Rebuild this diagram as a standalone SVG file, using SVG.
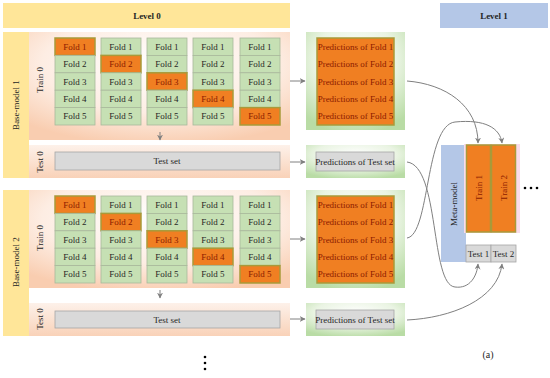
<svg xmlns="http://www.w3.org/2000/svg" width="550" height="378" viewBox="0 0 550 378">
<defs>
<radialGradient id="peach" cx="0.5" cy="0.3" r="0.75">
<stop offset="0" stop-color="#FFFFFF"/>
<stop offset="0.6" stop-color="#FDEDE3"/>
<stop offset="1" stop-color="#F9CDB0"/>
</radialGradient>
<linearGradient id="peachStrip" x1="0" y1="0" x2="0" y2="1">
<stop offset="0" stop-color="#FDF1EA"/>
<stop offset="1" stop-color="#F9D2B8"/>
</linearGradient>
<radialGradient id="green" cx="0.5" cy="0.3" r="0.75">
<stop offset="0" stop-color="#FFFFFF"/>
<stop offset="0.55" stop-color="#EAF4E3"/>
<stop offset="1" stop-color="#B9DCA5"/>
</radialGradient>
<marker id="arr" viewBox="0 0 10 10" refX="9" refY="5" markerWidth="6" markerHeight="6" orient="auto" markerUnits="userSpaceOnUse">
<path d="M0,0 L10,5 L0,10 L3,5 Z" fill="#7F7F7F"/>
</marker>
</defs>
<style>
text{font-family:"Liberation Serif","Times New Roman",serif;font-size:9px;text-anchor:middle;dominant-baseline:central;fill:#262626}
.b{font-weight:bold}
.g{fill:#C6E0B4;stroke:#A9B89C;stroke-width:0.8}
.o{fill:#F07F22;stroke:#A89A3A;stroke-width:1.5}
.col{fill:none;stroke:#A6A6A6;stroke-width:1}
.ot{fill:#8B1A00}
.gray{fill:#D9D9D9;stroke:#A6A6A6;stroke-width:0.8}
.yel{fill:#FFE699}
.blue{fill:#B4C7E7}
.con{fill:none;stroke:#808080;stroke-width:1;marker-end:url(#arr)}
</style>

<g id="level0"><rect x="3" y="3" width="287" height="25" class="yel"/><text x="147" y="16" class="b">Level 0</text></g>
<g id="level1"><rect x="440" y="3" width="108" height="25" class="blue"/><text x="494" y="16" class="b">Level 1</text></g>

<!-- Base model 1 -->
<g id="base1">
<rect x="3" y="32" width="26" height="146" class="yel"/>
<text transform="translate(16,105) rotate(-90)">Base-model 1</text>
<rect x="29" y="32" width="261" height="108" fill="url(#peach)"/>
<text transform="translate(40,80) rotate(-90)">Train 0</text>
<rect x="29" y="145" width="261" height="33" fill="url(#peachStrip)"/>
<text transform="translate(40,162) rotate(-90)">Test 0</text>
</g>

<g id="folds1">
<g id="f1c1">
<rect x="55" y="38" width="40" height="17.4" class="o"/><text x="75" y="46.7" class="ot">Fold 1</text>
<rect x="55" y="55.4" width="40" height="17.4" class="g"/><text x="75" y="64.1">Fold 2</text>
<rect x="55" y="72.8" width="40" height="17.4" class="g"/><text x="75" y="81.5">Fold 3</text>
<rect x="55" y="90.2" width="40" height="17.4" class="g"/><text x="75" y="98.9">Fold 4</text>
<rect x="55" y="107.6" width="40" height="17.4" class="g"/><text x="75" y="116.3">Fold 5</text>
</g>
<g id="f1c2">
<rect x="101" y="38" width="40" height="17.4" class="g"/><text x="121" y="46.7">Fold 1</text>
<rect x="101" y="55.4" width="40" height="17.4" class="o"/><text x="121" y="64.1" class="ot">Fold 2</text>
<rect x="101" y="72.8" width="40" height="17.4" class="g"/><text x="121" y="81.5">Fold 3</text>
<rect x="101" y="90.2" width="40" height="17.4" class="g"/><text x="121" y="98.9">Fold 4</text>
<rect x="101" y="107.6" width="40" height="17.4" class="g"/><text x="121" y="116.3">Fold 5</text>
</g>
<g id="f1c3">
<rect x="147" y="38" width="40" height="17.4" class="g"/><text x="167" y="46.7">Fold 1</text>
<rect x="147" y="55.4" width="40" height="17.4" class="g"/><text x="167" y="64.1">Fold 2</text>
<rect x="147" y="72.8" width="40" height="17.4" class="o"/><text x="167" y="81.5" class="ot">Fold 3</text>
<rect x="147" y="90.2" width="40" height="17.4" class="g"/><text x="167" y="98.9">Fold 4</text>
<rect x="147" y="107.6" width="40" height="17.4" class="g"/><text x="167" y="116.3">Fold 5</text>
</g>
<g id="f1c4">
<rect x="193" y="38" width="40" height="17.4" class="g"/><text x="213" y="46.7">Fold 1</text>
<rect x="193" y="55.4" width="40" height="17.4" class="g"/><text x="213" y="64.1">Fold 2</text>
<rect x="193" y="72.8" width="40" height="17.4" class="g"/><text x="213" y="81.5">Fold 3</text>
<rect x="193" y="90.2" width="40" height="17.4" class="o"/><text x="213" y="98.9" class="ot">Fold 4</text>
<rect x="193" y="107.6" width="40" height="17.4" class="g"/><text x="213" y="116.3">Fold 5</text>
</g>
<g id="f1c5">
<rect x="240" y="38" width="40" height="17.4" class="g"/><text x="260" y="46.7">Fold 1</text>
<rect x="240" y="55.4" width="40" height="17.4" class="g"/><text x="260" y="64.1">Fold 2</text>
<rect x="240" y="72.8" width="40" height="17.4" class="g"/><text x="260" y="81.5">Fold 3</text>
<rect x="240" y="90.2" width="40" height="17.4" class="g"/><text x="260" y="98.9">Fold 4</text>
<rect x="240" y="107.6" width="40" height="17.4" class="o"/><text x="260" y="116.3" class="ot">Fold 5</text>
</g>
</g>
<g id="testset1"><rect x="55" y="152" width="225" height="18" class="gray"/><text x="167" y="161">Test set</text></g>

<g id="pred1">
<rect x="306" y="32" width="99" height="98" fill="url(#green)"/>
<rect x="317" y="38" width="77" height="87" fill="#F07F22" stroke="#A89A3A" stroke-width="1.5"/>
<text x="355.5" y="46.7" class="ot">Predictions of Fold 1</text>
<text x="355.5" y="64.1" class="ot">Predictions of Fold 2</text>
<text x="355.5" y="81.5" class="ot">Predictions of Fold 3</text>
<text x="355.5" y="98.9" class="ot">Predictions of Fold 4</text>
<text x="355.5" y="116.3" class="ot">Predictions of Fold 5</text>
</g>
<g id="predtest1">
<rect x="306" y="145" width="99" height="33" fill="url(#green)"/>
<rect x="316" y="152" width="78" height="19" class="gray"/>
<text x="355" y="161.5">Predictions of Test set</text>
</g>

<!-- Base model 2 -->
<g id="base2">
<rect x="3" y="190" width="26" height="146" class="yel"/>
<text transform="translate(16,262) rotate(-90)">Base-model 2</text>
<rect x="29" y="190" width="261" height="98" fill="url(#peach)"/>
<text transform="translate(40,238) rotate(-90)">Train 0</text>
<rect x="29" y="303" width="261" height="33" fill="url(#peachStrip)"/>
<text transform="translate(40,319) rotate(-90)">Test 0</text>
</g>

<g id="folds2">
<g id="f2c1">
<rect x="55" y="196" width="40" height="17.4" class="o"/><text x="75" y="204.7" class="ot">Fold 1</text>
<rect x="55" y="213.4" width="40" height="17.4" class="g"/><text x="75" y="222.1">Fold 2</text>
<rect x="55" y="230.8" width="40" height="17.4" class="g"/><text x="75" y="239.5">Fold 3</text>
<rect x="55" y="248.2" width="40" height="17.4" class="g"/><text x="75" y="256.9">Fold 4</text>
<rect x="55" y="265.6" width="40" height="17.4" class="g"/><text x="75" y="274.3">Fold 5</text>
</g>
<g id="f2c2">
<rect x="101" y="196" width="40" height="17.4" class="g"/><text x="121" y="204.7">Fold 1</text>
<rect x="101" y="213.4" width="40" height="17.4" class="o"/><text x="121" y="222.1" class="ot">Fold 2</text>
<rect x="101" y="230.8" width="40" height="17.4" class="g"/><text x="121" y="239.5">Fold 3</text>
<rect x="101" y="248.2" width="40" height="17.4" class="g"/><text x="121" y="256.9">Fold 4</text>
<rect x="101" y="265.6" width="40" height="17.4" class="g"/><text x="121" y="274.3">Fold 5</text>
</g>
<g id="f2c3">
<rect x="147" y="196" width="40" height="17.4" class="g"/><text x="167" y="204.7">Fold 1</text>
<rect x="147" y="213.4" width="40" height="17.4" class="g"/><text x="167" y="222.1">Fold 2</text>
<rect x="147" y="230.8" width="40" height="17.4" class="o"/><text x="167" y="239.5" class="ot">Fold 3</text>
<rect x="147" y="248.2" width="40" height="17.4" class="g"/><text x="167" y="256.9">Fold 4</text>
<rect x="147" y="265.6" width="40" height="17.4" class="g"/><text x="167" y="274.3">Fold 5</text>
</g>
<g id="f2c4">
<rect x="193" y="196" width="40" height="17.4" class="g"/><text x="213" y="204.7">Fold 1</text>
<rect x="193" y="213.4" width="40" height="17.4" class="g"/><text x="213" y="222.1">Fold 2</text>
<rect x="193" y="230.8" width="40" height="17.4" class="g"/><text x="213" y="239.5">Fold 3</text>
<rect x="193" y="248.2" width="40" height="17.4" class="o"/><text x="213" y="256.9" class="ot">Fold 4</text>
<rect x="193" y="265.6" width="40" height="17.4" class="g"/><text x="213" y="274.3">Fold 5</text>
</g>
<g id="f2c5">
<rect x="240" y="196" width="40" height="17.4" class="g"/><text x="260" y="204.7">Fold 1</text>
<rect x="240" y="213.4" width="40" height="17.4" class="g"/><text x="260" y="222.1">Fold 2</text>
<rect x="240" y="230.8" width="40" height="17.4" class="g"/><text x="260" y="239.5">Fold 3</text>
<rect x="240" y="248.2" width="40" height="17.4" class="g"/><text x="260" y="256.9">Fold 4</text>
<rect x="240" y="265.6" width="40" height="17.4" class="o"/><text x="260" y="274.3" class="ot">Fold 5</text>
</g>
</g>
<g id="testset2"><rect x="55" y="311" width="225" height="17" class="gray"/><text x="167" y="319.5">Test set</text></g>

<g id="pred2">
<rect x="306" y="190" width="99" height="98" fill="url(#green)"/>
<rect x="317" y="196" width="77" height="87" fill="#F07F22" stroke="#A89A3A" stroke-width="1.5"/>
<text x="355.5" y="204.7" class="ot">Predictions of Fold 1</text>
<text x="355.5" y="222.1" class="ot">Predictions of Fold 2</text>
<text x="355.5" y="239.5" class="ot">Predictions of Fold 3</text>
<text x="355.5" y="256.9" class="ot">Predictions of Fold 4</text>
<text x="355.5" y="274.3" class="ot">Predictions of Fold 5</text>
</g>
<g id="predtest2">
<rect x="306" y="303" width="99" height="33" fill="url(#green)"/>
<rect x="316" y="310" width="78" height="19" class="gray"/>
<text x="355" y="319.5">Predictions of Test set</text>
</g>

<!-- Meta model -->
<g id="meta">
<rect x="441" y="145" width="25" height="117" class="blue"/>
<text transform="translate(453.5,204) rotate(-90)">Meta-model</text>
</g>
<g id="train12">
<rect x="464" y="144" width="56" height="89" fill="#FADCEB"/>
<rect x="466.5" y="145" width="24" height="87" class="o"/>
<text transform="translate(478.5,188) rotate(-90)" class="ot">Train 1</text>
<rect x="491.5" y="145" width="24" height="87" class="o"/>
<text transform="translate(503.5,188) rotate(-90)" class="ot">Train 2</text>
</g>
<g id="tests12">
<rect x="466" y="245" width="25" height="17" class="gray"/><text x="478.5" y="253.5">Test 1</text>
<rect x="491" y="245" width="25" height="17" class="gray"/><text x="503.5" y="253.5">Test 2</text>
</g>

<g id="dots">
<circle cx="525" cy="188" r="1.3" fill="#000"/><circle cx="531" cy="188" r="1.3" fill="#000"/><circle cx="537" cy="188" r="1.3" fill="#000"/>
<circle cx="205" cy="357" r="1.3" fill="#000"/><circle cx="205" cy="363" r="1.3" fill="#000"/><circle cx="205" cy="369" r="1.3" fill="#000"/>
</g>
<text x="488" y="354" style="font-size:10px">(a)</text>

<g id="connectors">
<path d="M160,132 L160,140" class="con"/>
<path d="M160,290 L160,298" class="con"/>
<path d="M290,81 L305,81" class="con"/>
<path d="M290,162 L305,162" class="con"/>
<path d="M290,239 L305,239" class="con"/>
<path d="M290,319 L305,319" class="con"/>
<path d="M407,81 C445,84 478,105 478,143" class="con"/>
<path d="M407,238 C430,235 425,125 455,122 C485,119 500,128 502,143" class="con"/>
<path d="M407,162 C440,166 430,285 455,287 C470,289 477,276 478,264" class="con"/>
<path d="M407,320 C450,318 498,300 502,264" class="con"/>
</g>
</svg>
